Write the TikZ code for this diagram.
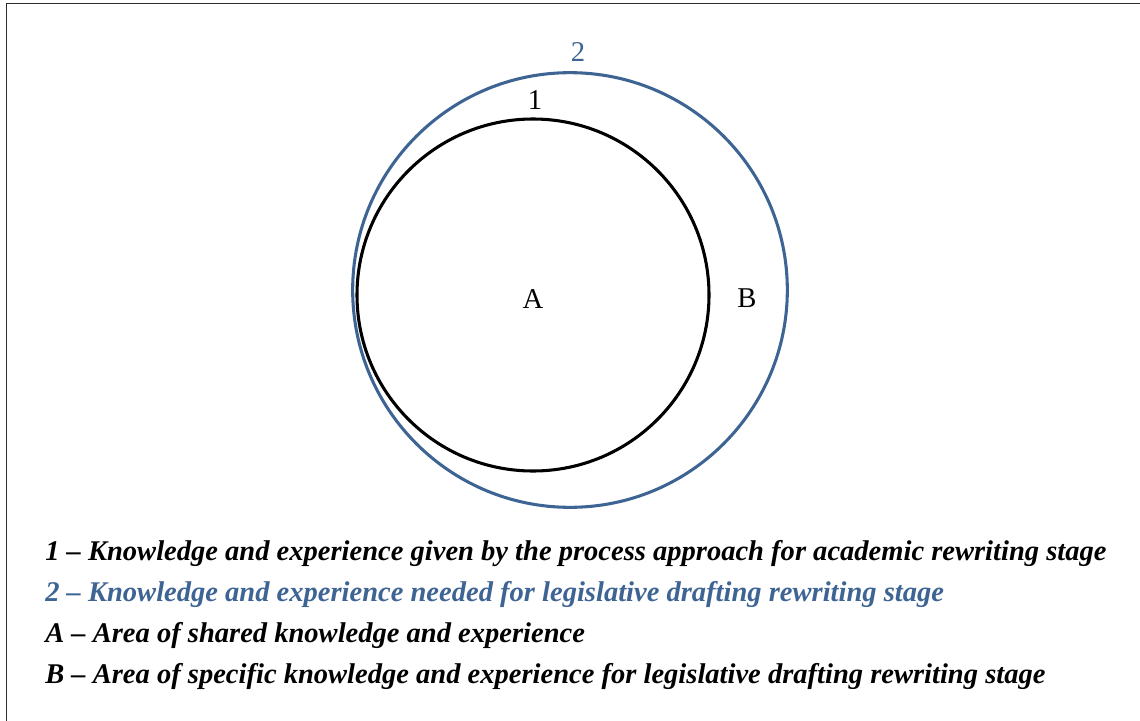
\documentclass[tikz,border=0pt]{standalone}
\usepackage{fontspec}
\setmainfont{Liberation Serif}
\definecolor{setblue}{RGB}{62,100,148}
\definecolor{framegray}{RGB}{45,45,45}
\begin{document}
\begin{tikzpicture}[x=0.75pt,y=-0.75pt,
  ring/.style={draw,circle,inner sep=0pt,line width=2.3pt},
  lbl/.style={inner sep=0pt,font=\fontsize{21.5pt}{24pt}\selectfont},
  legend/.style={anchor=base west,inner sep=0pt,font=\fontsize{21.4pt}{24pt}\selectfont\bfseries\itshape}]
\useasboundingbox (0,0) rectangle (1140,721);
\draw[framegray,line width=1.3pt] (6.5,721) -- (6.5,3.5) -- (1140,3.5);
\node[ring,setblue,minimum size=326pt] (outer) at (570,290) {};
\node[ring,black,minimum size=264pt] (inner) at (533,295) {};
\node[lbl,setblue] (l2) at (578,52) {2};
\node[lbl] (l1) at (535,100) {1};
\node[lbl] (lA) at (533,299) {A};
\node[lbl] (lB) at (747,298) {B};
\node[legend] (t1) at (45,560) {1 – Knowledge and experience given by the process approach for academic rewriting stage};
\node[legend,text=setblue] (t2) at (45,601) {2 – Knowledge and experience needed for legislative drafting rewriting stage};
\node[legend] (t3) at (45,642) {A – Area of shared knowledge and experience};
\node[legend] (t4) at (45,683) {B – Area of specific knowledge and experience for legislative drafting rewriting stage};
\end{tikzpicture}
\end{document}
